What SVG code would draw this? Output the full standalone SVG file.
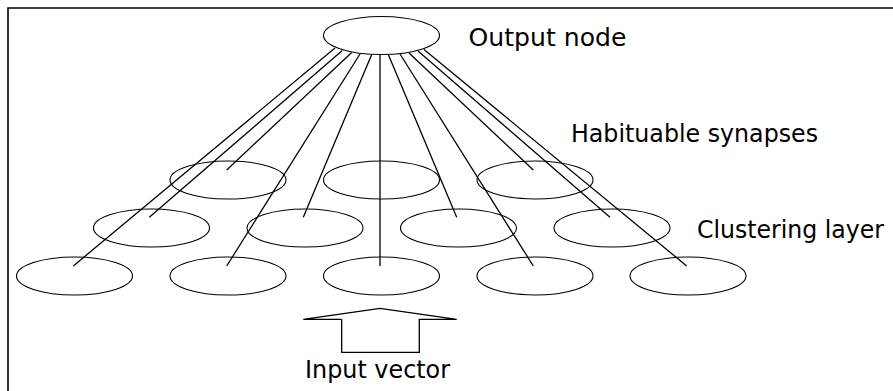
<svg xmlns="http://www.w3.org/2000/svg" width="893" height="391" viewBox="0 0 893 391">
<style>
.frame{fill:none;stroke:#000;stroke-width:1.6}
.node ellipse{fill:none;stroke:#000;stroke-width:1.1}
.conn line{stroke:#000;stroke-width:1.3}
.lbl{font-family:"DejaVu Sans",sans-serif;font-size:25px;fill:#000}
.arrow{fill:none;stroke:#000;stroke-width:1.3;stroke-linejoin:miter}
</style>
<rect width="893" height="391" fill="#fff"/>
<path class="frame" d="M8,391 V8 H893"/>
<g id="output" class="node"><ellipse cx="381.5" cy="35.5" rx="58" ry="19"/></g>
<g id="syn1" class="node"><ellipse cx="228" cy="180" rx="58" ry="19"/></g>
<g id="syn2" class="node"><ellipse cx="381.5" cy="180" rx="58" ry="19"/></g>
<g id="syn3" class="node"><ellipse cx="535" cy="180" rx="58" ry="19"/></g>
<g id="cl1" class="node"><ellipse cx="151.5" cy="228" rx="58" ry="19"/></g>
<g id="cl2" class="node"><ellipse cx="305" cy="228" rx="58" ry="19"/></g>
<g id="cl3" class="node"><ellipse cx="458.5" cy="228" rx="58" ry="19"/></g>
<g id="cl4" class="node"><ellipse cx="612" cy="228" rx="58" ry="19"/></g>
<g id="in1" class="node"><ellipse cx="74.5" cy="276" rx="58" ry="19"/></g>
<g id="in2" class="node"><ellipse cx="228" cy="276" rx="58" ry="19"/></g>
<g id="in3" class="node"><ellipse cx="381.5" cy="276" rx="58" ry="19"/></g>
<g id="in4" class="node"><ellipse cx="535" cy="276" rx="58" ry="19"/></g>
<g id="in5" class="node"><ellipse cx="688" cy="276" rx="58" ry="19"/></g>
<g id="connectors" class="conn">
<line x1="335" y1="48" x2="73.3" y2="266"/>
<line x1="342.3" y1="50.5" x2="149.3" y2="217.3"/>
<line x1="351.7" y1="52.5" x2="226.7" y2="170"/>
<line x1="360" y1="54" x2="226.7" y2="266"/>
<line x1="371.7" y1="54.5" x2="303.3" y2="217.3"/>
<line x1="380" y1="55" x2="380" y2="266"/>
<line x1="388.3" y1="54.5" x2="456.7" y2="217.3"/>
<line x1="400" y1="54" x2="533.3" y2="266"/>
<line x1="409" y1="53" x2="533.3" y2="170"/>
<line x1="418" y1="51" x2="610" y2="217.3"/>
<line x1="424" y1="49.5" x2="686.7" y2="266"/>
</g>
<g id="input-arrow">
<polyline class="arrow" points="341.7,319.3 303.3,319.3 380,308.3 456.7,319.3 419.3,319.3 419.3,352.3 341.7,352.3 341.7,319.3"/>
</g>
<g id="labels">
<text class="lbl" x="468.5" y="45.5" textLength="158" lengthAdjust="spacingAndGlyphs">Output node</text>
<text class="lbl" x="571" y="141.7" textLength="247" lengthAdjust="spacingAndGlyphs">Habituable synapses</text>
<text class="lbl" x="697" y="238.3" style="font-size:24px" textLength="187" lengthAdjust="spacingAndGlyphs">Clustering layer</text>
<text class="lbl" x="305" y="377.5" textLength="145" lengthAdjust="spacingAndGlyphs">Input vector</text>
</g>
</svg>
